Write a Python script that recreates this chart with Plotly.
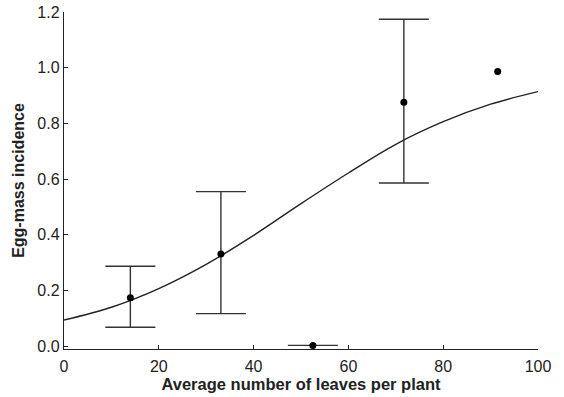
import plotly.graph_objects as go

# Observed points
obs_x = [14.0, 33.1, 52.5, 71.7, 91.5]
obs_y = [0.174, 0.331, 0.003, 0.876, 0.986]
err_plus = [0.113, 0.224, 0.0, 0.298, None]
err_minus = [0.106, 0.214, 0.0, 0.290, None]

# Fitted curve
curve_x = [0, 10, 20, 30, 40, 50, 60, 70, 80, 90, 100]
curve_y = [0.094, 0.140, 0.207, 0.294, 0.398, 0.512, 0.622, 0.725, 0.806, 0.869, 0.914]

x_ticks = [0, 20, 40, 60, 80, 100]
y_ticks = [0.0, 0.2, 0.4, 0.6, 0.8, 1.0, 1.2]

fig = go.Figure()
fig.add_trace(go.Scatter(
    x=curve_x, y=curve_y, mode="lines",
    line=dict(color="#222222", width=1.4, shape="spline"),
    showlegend=False, hoverinfo="skip"))

eb_x = [x for x, v in zip(obs_x, err_plus) if v is not None]
eb_y = [y for y, v in zip(obs_y, err_plus) if v is not None]
eb_p = [v for v in err_plus if v is not None]
eb_m = [v for v in err_minus if v is not None]

fig.add_trace(go.Scatter(
    x=eb_x, y=eb_y, mode="markers",
    marker=dict(color="black", size=7),
    error_y=dict(type="data", symmetric=False, array=eb_p, arrayminus=eb_m,
                 color="#333333", thickness=1.4, width=25),
    showlegend=False))
fig.add_trace(go.Scatter(
    x=[x for x, v in zip(obs_x, err_plus) if v is None],
    y=[y for y, v in zip(obs_y, err_plus) if v is None],
    mode="markers", marker=dict(color="black", size=7), showlegend=False))

font_family = "Liberation Sans, Arial, sans-serif"
fig.update_layout(
    width=564, height=397,
    margin=dict(l=64, r=26, t=12, b=48),
    plot_bgcolor="white", paper_bgcolor="white",
    font=dict(family=font_family, size=16, color="#222222"),
    xaxis=dict(range=[0, 100], tickvals=x_ticks, ticktext=[str(v) for v in x_ticks],
               showgrid=False, zeroline=False, showline=True, linecolor="#222222",
               linewidth=1.4, ticks="inside", ticklen=4, tickcolor="#222222",
               ticklabelstandoff=3, automargin=False,
               title=dict(text="<b>Average number of leaves per plant</b>",
                          font=dict(size=16.5), standoff=0)),
    yaxis=dict(range=[-0.01, 1.2], tickvals=y_ticks,
               ticktext=[f"{v:.1f}" for v in y_ticks],
               showgrid=False, zeroline=False, showline=True, linecolor="#222222",
               linewidth=1.4, ticks="inside", ticklen=4, tickcolor="#222222",
               automargin=False,
               title=dict(text="<b>Egg-mass incidence</b>", font=dict(size=16),
                          standoff=8)),
)
fig.write_html("out.html")
